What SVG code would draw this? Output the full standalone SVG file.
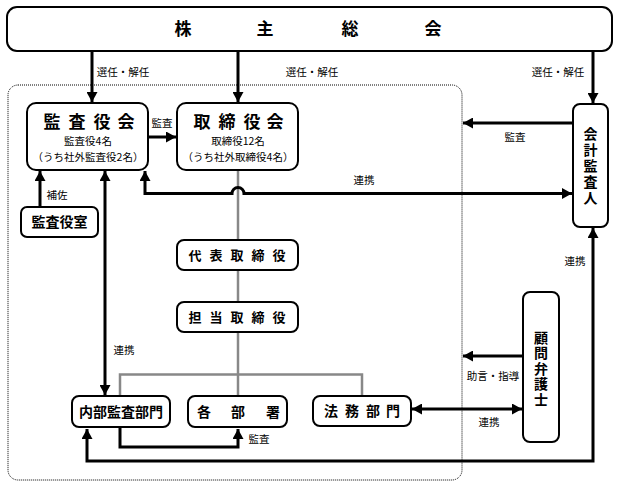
<svg xmlns="http://www.w3.org/2000/svg" width="618" height="488" viewBox="0 0 618 488">
<defs>
<marker id="ah" markerUnits="userSpaceOnUse" markerWidth="11" markerHeight="11" refX="10" refY="5.5" orient="auto-start-reverse">
<path d="M0,0 L10,5.5 L0,11 Z" fill="#000"/>
</marker>
<style>
.box{fill:#fff;stroke:#000;stroke-width:2}
.bnd{fill:none;stroke:#000;stroke-width:1;stroke-dasharray:1 1}
.gray{fill:none;stroke:#888;stroke-width:2.5}
.con{fill:none;stroke:#000;stroke-width:3}
.ttl{font-family:"Noto Sans CJK JP","Liberation Sans",sans-serif;font-weight:bold;text-anchor:middle;fill:#000}
.vt{font-family:"Noto Sans CJK JP","Liberation Sans",sans-serif;font-weight:bold;font-size:14px;text-anchor:middle;fill:#000;writing-mode:vertical-rl}
.sub{font-family:"Noto Sans CJK JP","Liberation Sans",sans-serif;font-size:10.5px;text-anchor:middle;fill:#000}
.lbl{font-family:"Noto Sans CJK JP","Liberation Sans",sans-serif;font-size:10.5px;text-anchor:middle;fill:#000}
</style>
</defs>
<rect width="618" height="488" fill="#fff"/>
<rect class="bnd" x="8" y="85" width="454" height="395" rx="10"/>
<g id="connectors">
<path class="gray" d="M238,170 V396"/>
<path class="gray" d="M120,396 V374.5 H362 V396"/>
<path class="con" d="M92,51 V102" marker-end="url(#ah)"/>
<path class="con" d="M238,51 V102" marker-end="url(#ah)"/>
<path class="con" d="M593,51 V103" marker-end="url(#ah)"/>
<path class="con" d="M149,137 H176" marker-end="url(#ah)"/>
<path class="con" d="M40,207 V171" marker-end="url(#ah)"/>
<path class="con" d="M105,171 V395" marker-start="url(#ah)" marker-end="url(#ah)"/>
<path class="con" d="M145,171 V193.5 H232 A6,6 0 0 1 244,193.5 H572" marker-start="url(#ah)" marker-end="url(#ah)"/>
<path class="con" d="M573,123 H463" marker-end="url(#ah)"/>
<path class="con" d="M523,356 H463" marker-end="url(#ah)"/>
<path class="con" d="M412,409 H522" marker-start="url(#ah)" marker-end="url(#ah)"/>
<path class="con" d="M120,428 V447 H238 V429" marker-end="url(#ah)"/>
<path class="con" d="M87,429 V461 H593 V228" marker-start="url(#ah)" marker-end="url(#ah)"/>
<text class="lbl" x="123" y="76">選任・解任</text>
<text class="lbl" x="312" y="76">選任・解任</text>
<text class="lbl" x="558" y="76">選任・解任</text>
<text class="lbl" x="162" y="127">監査</text>
<text class="lbl" x="57" y="199">補佐</text>
<text class="lbl" x="364" y="184">連携</text>
<text class="lbl" x="515" y="141">監査</text>
<text class="lbl" x="124" y="354">連携</text>
<text class="lbl" x="259" y="443">監査</text>
<text class="lbl" x="575" y="265">連携</text>
<text class="lbl" x="493" y="380">助言・指導</text>
<text class="lbl" x="489" y="426">連携</text>
</g>
<g id="shareholders">
<rect class="box" x="7" y="7" width="605" height="44" rx="10"/>
<text class="ttl" font-size="17" x="183 265 350 433" y="35">株主総会</text>
</g>
<g id="kansayakukai">
<rect class="box" x="27" y="103" width="121" height="67" rx="9"/>
<text class="ttl" font-size="17" x="52 77 102 126" y="127.5">監査役会</text>
<text class="sub"><tspan x="88" y="145">監査役4名</tspan><tspan x="88" y="160.5">（うち社外監査役2名）</tspan></text>
</g>
<g id="torishimariyakukai">
<rect class="box" x="177" y="103" width="121" height="67" rx="9"/>
<text class="ttl" font-size="17" x="202 227 252 275" y="127.5">取締役会</text>
<text class="sub"><tspan x="238" y="145">取締役12名</tspan><tspan x="238" y="160.5">（うち社外取締役4名）</tspan></text>
</g>
<g id="kansayakushitsu">
<rect class="box" x="21" y="207" width="77" height="30" rx="6"/>
<text class="ttl" font-size="14" x="59.5" y="227">監査役室</text>
</g>
<g id="daihyo">
<rect class="box" x="177" y="240" width="121" height="30" rx="7"/>
<text class="ttl" font-size="13" x="195 216 237 258 279" y="260">代表取締役</text>
</g>
<g id="tanto">
<rect class="box" x="177" y="302" width="121" height="30" rx="7"/>
<text class="ttl" font-size="13" x="195 216 237 258 279" y="322">担当取締役</text>
</g>
<g id="naibu">
<rect class="box" x="72" y="396" width="98" height="31" rx="7"/>
<text class="ttl" font-size="14" x="121" y="417">内部監査部門</text>
</g>
<g id="kakubusho">
<rect class="box" x="188" y="396" width="99" height="31" rx="7"/>
<text class="ttl" font-size="14" x="204 238 273" y="417">各部署</text>
</g>
<g id="homu">
<rect class="box" x="313" y="396" width="98" height="30" rx="7"/>
<text class="ttl" font-size="14" x="331 352 373 393" y="416">法務部門</text>
</g>
<g id="kaikei">
<rect class="box" x="573" y="104" width="35" height="123" rx="7"/>
<text class="vt" x="590.5" y="167" letter-spacing="2">会計監査人</text>
</g>
<g id="komon">
<rect class="box" x="523" y="292" width="36" height="150" rx="7"/>
<text class="vt" x="541" y="369" letter-spacing="1.5">顧問弁護士</text>
</g>
</svg>
